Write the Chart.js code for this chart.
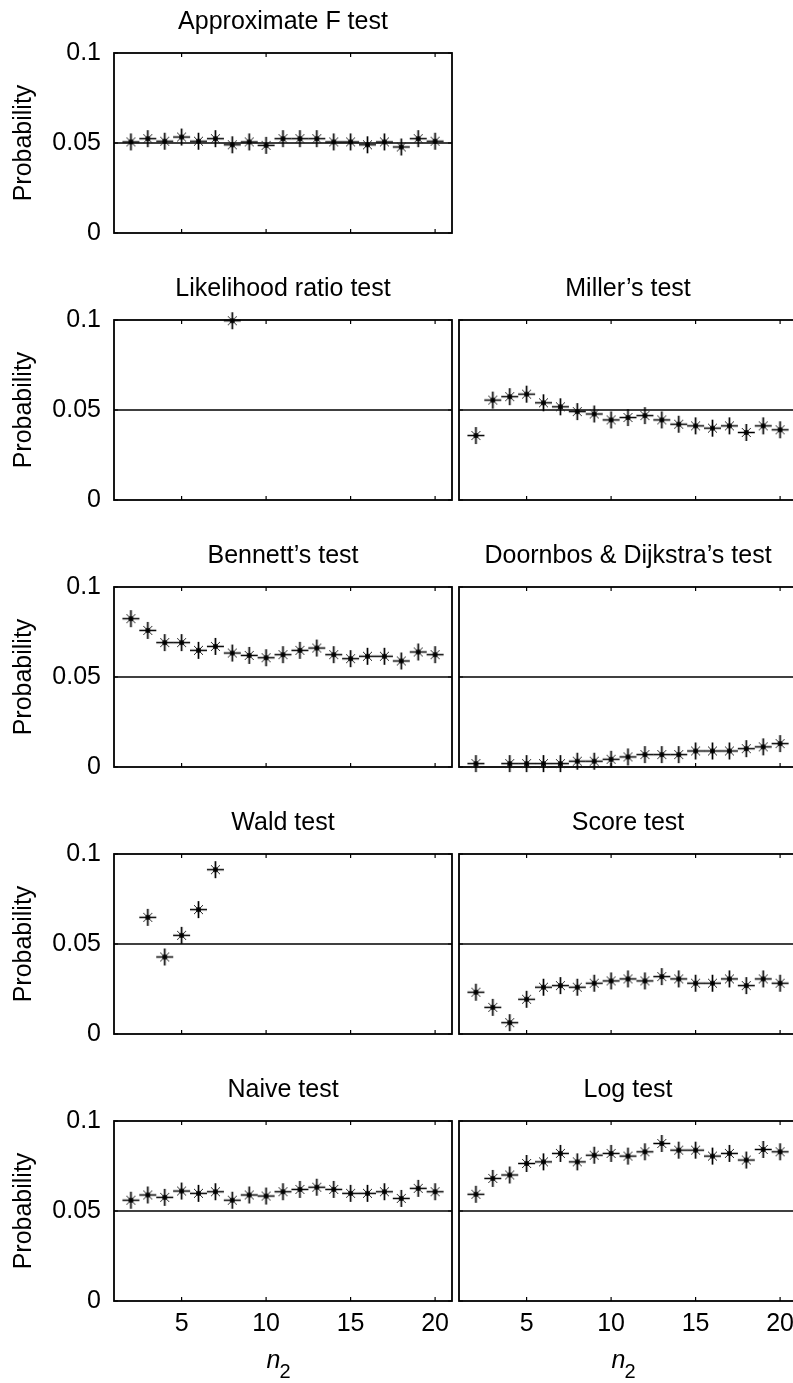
<!DOCTYPE html>
<html lang="en">
<head>
<meta charset="UTF-8">
<title>Rejection probabilities by n2</title>
<script src="https://cdn.jsdelivr.net/npm/chart.js"></script>
<style>
  html, body { margin: 0; padding: 0; background: #fff; }
  body { width: 793px; height: 1383px; overflow: hidden; position: relative; }
  canvas { position: absolute; display: block; }
</style>
</head>
<body>
<script>
// ---- data ----
const nValues = [2, 3, 4, 5, 6, 7, 8, 9, 10, 11, 12, 13, 14, 15, 16, 17, 18, 19, 20];
const xTicks = [5, 10, 15, 20];
const xTickLabels = ['5', '10', '15', '20'];
const yTicks = [0, 0.05, 0.1];
const yTickLabels = ['0', '0.05', '0.1'];
const refLevel = 0.05;

const approxF = [0.0506, 0.0524, 0.051, 0.0533, 0.051, 0.0524, 0.049, 0.0506, 0.0487, 0.0524,
                 0.0524, 0.0524, 0.0506, 0.0506, 0.049, 0.0506, 0.0478, 0.0524, 0.051];
const likelihoodRatio = [null, null, null, null, null, null, 0.0996, null, null, null,
                         null, null, null, null, null, null, null, null, null];
const miller = [0.0358, 0.0555, 0.0574, 0.0588, 0.054, 0.0518, 0.0491, 0.0478, 0.0445, 0.0458,
                0.0469, 0.0445, 0.0421, 0.0412, 0.0399, 0.0412, 0.0375, 0.0412, 0.039];
const bennett = [0.0824, 0.0759, 0.0691, 0.0691, 0.0648, 0.067, 0.0633, 0.062, 0.0607, 0.0624,
                 0.0648, 0.0661, 0.0624, 0.0602, 0.0615, 0.0615, 0.0589, 0.0639, 0.0624];
const doornbos = [0.0019, null, 0.0019, 0.0019, 0.0019, 0.0019, 0.0032, 0.0032, 0.0043, 0.0056,
                  0.0069, 0.0069, 0.0069, 0.0089, 0.0089, 0.0089, 0.0102, 0.0112, 0.013];
const wald = [null, 0.0648, 0.0428, 0.0548, 0.0691, 0.0913, null, null, null, null,
              null, null, null, null, null, null, null, null, null];
const score = [0.0232, 0.0148, 0.0063, 0.0193, 0.026, 0.0269, 0.026, 0.0282, 0.0295, 0.0306,
               0.0295, 0.0319, 0.0306, 0.0282, 0.0282, 0.0306, 0.0269, 0.0306, 0.0282];
const naive = [0.056, 0.0589, 0.0576, 0.0611, 0.0598, 0.0607, 0.056, 0.0589, 0.0583, 0.0607,
               0.062, 0.0632, 0.062, 0.0598, 0.0598, 0.0607, 0.057, 0.0626, 0.0607];
const logTest = [0.0593, 0.0681, 0.07, 0.0764, 0.0773, 0.082, 0.0773, 0.081, 0.082, 0.0805,
                 0.0829, 0.0875, 0.0838, 0.0838, 0.0805, 0.082, 0.0783, 0.0842, 0.0829];

const yTitle = 'Probability';
const xTitleMain = 'n';
const xTitleSub = '2';

const panels = [
  { title: 'Approximate F test', values: approxF, row: 0, col: 0 },
  { title: 'Likelihood ratio test', values: likelihoodRatio, row: 1, col: 0 },
  { title: 'Miller’s test', values: miller, row: 1, col: 1 },
  { title: 'Bennett’s test', values: bennett, row: 2, col: 0 },
  { title: 'Doornbos & Dijkstra’s test', values: doornbos, row: 2, col: 1 },
  { title: 'Wald test', values: wald, row: 3, col: 0 },
  { title: 'Score test', values: score, row: 3, col: 1 },
  { title: 'Naive test', values: naive, row: 4, col: 0 },
  { title: 'Log test', values: logTest, row: 4, col: 1 }
];

// ---- look ----
const FONT = "'Liberation Sans', Arial, sans-serif";
const rowStep = 267;

// matlab-like '*' marker
function makeStar() {
  const c = document.createElement('canvas');
  c.width = 19; c.height = 19;
  const g = c.getContext('2d');
  g.strokeStyle = '#000';
  g.fillStyle = '#000';
  g.lineWidth = 1.7;
  g.beginPath();
  g.moveTo(1, 9.5); g.lineTo(18, 9.5);
  g.moveTo(9.5, 1); g.lineTo(9.5, 18);
  g.stroke();
  g.lineWidth = 1;
  g.strokeStyle = '#222';
  g.beginPath();
  g.moveTo(5, 5); g.lineTo(14, 14);
  g.moveTo(14, 5); g.lineTo(5, 14);
  g.stroke();
  g.beginPath();
  g.arc(9.5, 9.5, 2.5, 0, Math.PI * 2);
  g.fill();
  return c;
}
const star = makeStar();

// box, inward ticks and the 0.05 reference line
const boxPlugin = {
  id: 'matlabBox',
  beforeDatasetsDraw(chart) {
    const { ctx, chartArea: a, scales: { x, y } } = chart;
    ctx.save();
    ctx.strokeStyle = '#000';
    ctx.lineWidth = 1.5;
    const yr = y.getPixelForValue(refLevel);
    ctx.beginPath();
    ctx.moveTo(a.left, yr);
    ctx.lineTo(a.right, yr);
    ctx.stroke();
    ctx.lineWidth = 1.2;
    ctx.beginPath();
    xTicks.forEach(v => {
      const px = x.getPixelForValue(v);
      ctx.moveTo(px, a.bottom); ctx.lineTo(px, a.bottom - 4);
      ctx.moveTo(px, a.top); ctx.lineTo(px, a.top + 4);
    });
    yTicks.forEach(v => {
      const py = y.getPixelForValue(v);
      ctx.moveTo(a.left, py); ctx.lineTo(a.left + 4, py);
      ctx.moveTo(a.right, py); ctx.lineTo(a.right - 4, py);
    });
    ctx.stroke();
    ctx.lineWidth = 1.8;
    ctx.strokeRect(a.left, a.top, a.right - a.left, a.bottom - a.top);
    ctx.restore();
  }
};

// x label "n" with subscript 2
const subLabelPlugin = {
  id: 'subLabel',
  afterDraw(chart) {
    const { ctx, chartArea: a } = chart;
    ctx.save();
    ctx.fillStyle = '#000';
    ctx.textBaseline = 'alphabetic';
    ctx.font = 'italic 25px ' + FONT;
    const wN = ctx.measureText(xTitleMain).width;
    ctx.font = '20px ' + FONT;
    const wS = ctx.measureText(xTitleSub).width;
    const x0 = (a.left + a.right) / 2 - 4 - (wN + wS) / 2;
    ctx.font = 'italic 25px ' + FONT;
    ctx.fillText(xTitleMain, x0, a.bottom + 67);
    ctx.font = '20px ' + FONT;
    ctx.fillText(xTitleSub, x0 + wN - 1, a.bottom + 77);
    ctx.restore();
  }
};

function drawPanel(p) {
  const left = p.col === 0;
  const bottom = p.row === 4;
  const cv = document.createElement('canvas');
  cv.width = left ? 454 : 345;
  cv.height = bottom ? 315 : 265;
  cv.style.left = (left ? 0 : 455) + 'px';
  cv.style.top = (p.row * rowStep) + 'px';
  document.body.appendChild(cv);

  const font = { family: FONT, size: 25, lineHeight: 1.2, weight: 'normal' };

  new Chart(cv, {
    type: 'scatter',
    data: {
      datasets: [{
        data: nValues.map((n, i) => ({ x: n, y: p.values[i] })),
        pointStyle: star,
        pointRadius: 9,
        showLine: false,
        clip: false
      }]
    },
    options: {
      responsive: false,
      animation: false,
      devicePixelRatio: 1,
      events: [],
      layout: {
        autoPadding: false,
        padding: { left: left ? 0 : 4, right: left ? 2 : 3, top: 0, bottom: bottom ? 0 : 32 }
      },
      plugins: {
        legend: { display: false },
        tooltip: { enabled: false },
        title: {
          display: true,
          text: p.title,
          fullSize: false,
          color: '#000',
          font: font,
          padding: { top: 7, bottom: 16 }
        }
      },
      scales: {
        x: {
          type: 'linear',
          min: 1,
          max: 21,
          display: bottom,
          afterBuildTicks: s => { s.ticks = xTicks.map(v => ({ value: v })); },
          afterFit: s => {
            s.height = bottom ? 82 : 0;
            s.paddingLeft = 0;
            s.paddingRight = 0;
          },
          grid: { display: false, drawTicks: false, tickLength: 0 },
          border: { display: false },
          ticks: {
            padding: 8,
            color: '#000',
            font: font,
            maxRotation: 0,
            callback: (v, i) => xTickLabels[i]
          }
        },
        y: {
          min: 0,
          max: 0.1,
          display: left,
          afterBuildTicks: s => { s.ticks = yTicks.map(v => ({ value: v })); },
          afterFit: s => { s.width = left ? 114 : 0; },
          grid: { display: false, drawTicks: false, tickLength: 0 },
          border: { display: false },
          ticks: {
            padding: 13,
            color: '#000',
            font: font,
            callback: (v, i) => yTickLabels[i]
          },
          title: {
            display: true,
            text: yTitle,
            color: '#000',
            font: font,
            padding: { top: 9, bottom: 0 }
          }
        }
      }
    },
    plugins: bottom ? [boxPlugin, subLabelPlugin] : [boxPlugin]
  });
}

panels.forEach(drawPanel);
</script>
</body>
</html>
